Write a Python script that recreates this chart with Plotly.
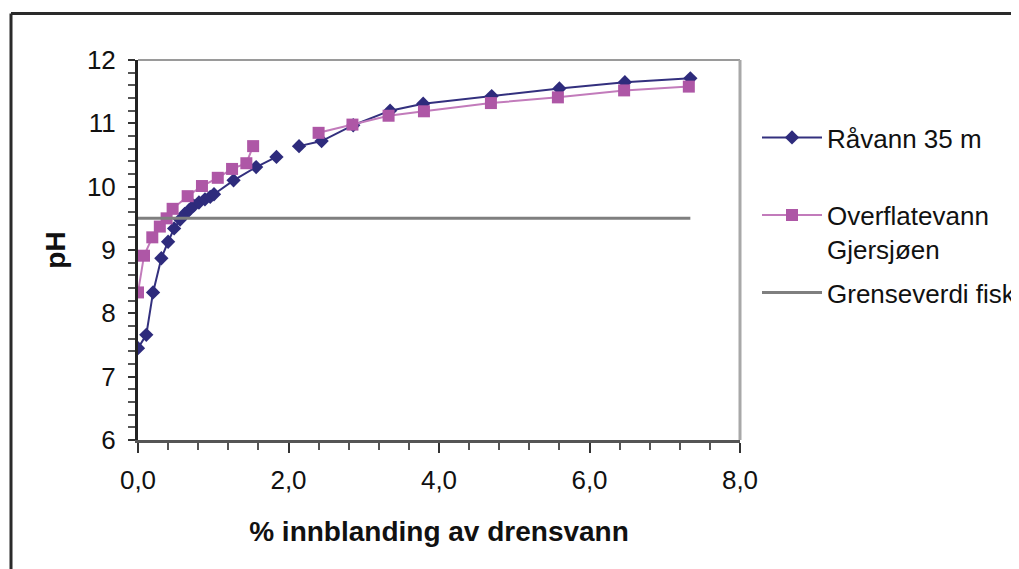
import plotly.graph_objects as go

# --- data ---
ravann_x = [0.0, 0.11, 0.2, 0.31, 0.4, 0.48, 0.56, 0.62, 0.68, 0.74, 0.81, 0.89, 0.96, 1.01,
            1.27, 1.57, 1.84, None, 2.14, 2.44, 2.86, 3.35, 3.79, 4.70, 5.60, 6.47, 7.34]
ravann_ph = [7.45, 7.66, 8.33, 8.87, 9.13, 9.34, 9.48, 9.57, 9.63, 9.70, 9.75, 9.80, 9.84, 9.88,
             10.10, 10.31, 10.47, None, 10.64, 10.72, 10.97, 11.20, 11.31, 11.43, 11.55, 11.65, 11.71]

overflate_x = [0.0, 0.08, 0.19, 0.29, 0.38, 0.46, 0.66, 0.85, 1.06, 1.25, 1.44, 1.53, None,
               2.40, 2.85, 3.33, 3.80, 4.69, 5.58, 6.46, 7.32]
overflate_ph = [8.33, 8.91, 9.20, 9.37, 9.50, 9.65, 9.85, 10.01, 10.14, 10.28, 10.37, 10.64, None,
                10.85, 10.98, 11.12, 11.19, 11.32, 11.41, 11.52, 11.58]

grense_x = [0.0, 7.34]
grense_ph = [9.5, 9.5]

names = ["Råvann 35 m<br>&nbsp;", "Overflatevann<br>Gjersjøen", "Grenseverdi fisk"]
x_title = "% innblanding av drensvann"
y_title = "pH"

FONT = "Liberation Sans, Arial, sans-serif"

fig = go.Figure()
fig.add_trace(go.Scatter(
    x=ravann_x, y=ravann_ph, name=names[0], mode="lines+markers", legendgroup="a",
    line=dict(color="#33307E", width=2),
    marker=dict(symbol="diamond", size=11, color="#2E2B7C"),
    connectgaps=False,
))
fig.add_trace(go.Scatter(
    x=overflate_x, y=overflate_ph, name=names[1], mode="lines+markers", legendgroup="b",
    line=dict(color="#C27BBB", width=2),
    marker=dict(symbol="square", size=12, color="#AE57A6"),
    connectgaps=False,
))
fig.add_trace(go.Scatter(
    x=grense_x, y=grense_ph, name=names[2], mode="lines", legendgroup="c",
    line=dict(color="#7F7F7F", width=3),
))

# page has an 8px body margin: figure coords = page coords - 8
OFF = 8
W, H = 1019 - OFF, 569 - OFF
L, T = 138 - OFF, 60 - OFF
pw, ph = 602, 380
R, B = W - L - pw, H - T - ph
fx = lambda page_px: (page_px - OFF - L) / pw
fy = lambda page_py: (T + ph - (page_py - OFF)) / ph

shapes = [
    # plot area top and right border
    dict(type="line", xref="paper", yref="paper", x0=0, x1=1, y0=1, y1=1,
         line=dict(color="#9A9A9A", width=2)),
    dict(type="line", xref="paper", yref="paper", x0=1, x1=1, y0=0, y1=1,
         line=dict(color="#A8A8A8", width=3)),
    # outer chart frame
    dict(type="line", xref="paper", yref="paper", x0=fx(11), x1=fx(11), y0=fy(600), y1=fy(13.5),
         line=dict(color="#2A2A2A", width=3)),
    dict(type="line", xref="paper", yref="paper", x0=fx(11), x1=fx(1100), y0=fy(13.5), y1=fy(13.5),
         line=dict(color="#2A2A2A", width=3)),
]

fig.update_layout(
    width=W, height=H,
    margin=dict(l=L, r=R, t=T, b=B, pad=0, autoexpand=False),
    paper_bgcolor="white", plot_bgcolor="white",
    separators=", ",
    font=dict(family=FONT, size=26, color="#111"),
    showlegend=True,
    legend=dict(
        x=fx(757), xanchor="left", y=fy(114), yanchor="top",
        font=dict(family=FONT, size=26, color="#111"),
        itemwidth=60, valign="top", tracegroupgap=7,
        bgcolor="rgba(0,0,0,0)",
    ),
    shapes=shapes,
    xaxis=dict(
        range=[0, 8], dtick=2, tick0=0, tickformat=".1f",
        showgrid=False, zeroline=False,
        showline=True, linecolor="#555555", linewidth=3,
        ticks="outside", ticklen=10, tickwidth=2, tickcolor="#333",
        minor=dict(dtick=0.4, tick0=0, ticks="outside", ticklen=7, tickwidth=2, tickcolor="#555", showgrid=False),
        ticklabelstandoff=5,
        title=dict(text="<b>" + x_title + "</b>", font=dict(family=FONT, size=28, color="#111"), standoff=28),
    ),
    yaxis=dict(
        range=[6, 12], dtick=1, tick0=6,
        showgrid=False, zeroline=False,
        showline=True, linecolor="#222222", linewidth=3,
        ticks="outside", ticklen=7, tickwidth=2, tickcolor="#333",
        minor=dict(dtick=0.2, tick0=6, ticks="outside", ticklen=7, tickwidth=2, tickcolor="#555", showgrid=False),
        ticklabelstandoff=7,
        title=dict(text="<b>" + y_title + "</b>", font=dict(family=FONT, size=28, color="#111"), standoff=14),
    ),
)

fig.write_html("out.html")
